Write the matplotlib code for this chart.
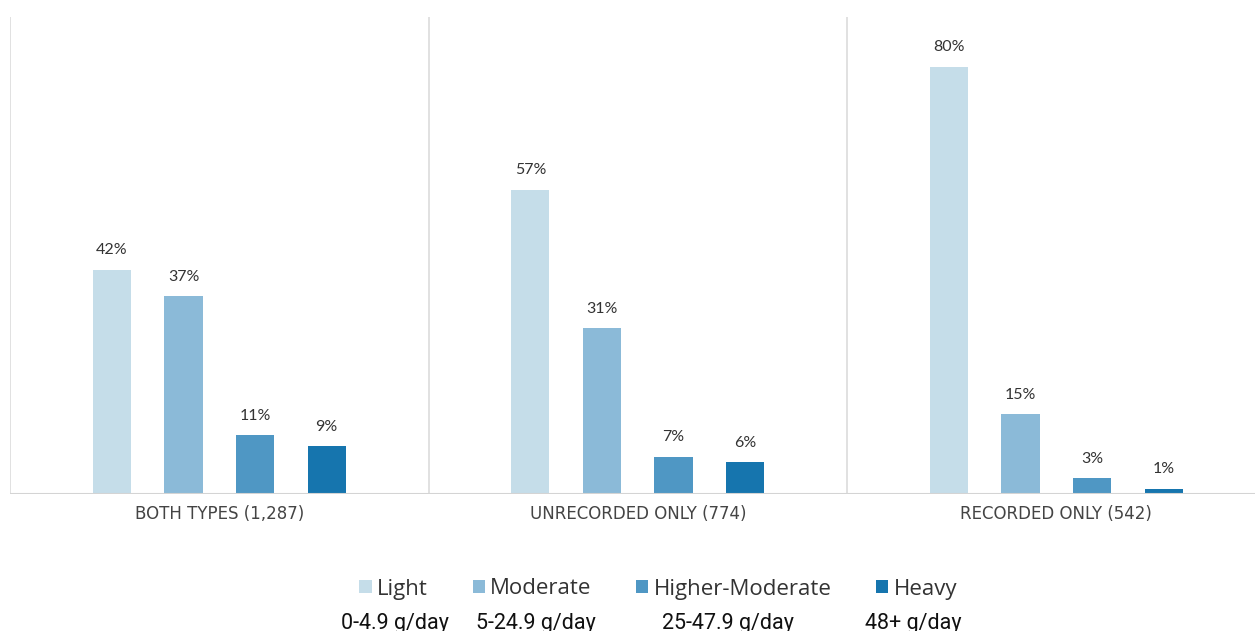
import matplotlib.pyplot as plt
import numpy as np

groups = ["BOTH TYPES (1,287)", "UNRECORDED ONLY (774)", "RECORDED ONLY (542)"]
levels = ["Light", "Moderate", "Higher-Moderate", "Heavy"]
ranges = ["0-4.9 g/day", "5-24.9 g/day", "25-47.9 g/day", "48+ g/day"]
light = [42, 57, 80]
moderate = [37, 31, 15]
higher_moderate = [11, 7, 3]
heavy = [9, 6, 1]

colors = ["#c5dde9", "#8bbad8", "#4f97c4", "#1675ae"]
series = [light, moderate, higher_moderate, heavy]

fig = plt.figure(figsize=(12.55, 6.31), dpi=100)
# axes runs a bit past the right edge, like the original crop
ax = fig.add_axes([10 / 1255, 1 - 494 / 631, 1255.5 / 1255, 477 / 631])

x = np.arange(len(groups))
step = 0.171
width = 0.091
handles = []
for i, (vals, col) in enumerate(zip(series, colors)):
    pos = x + (i - 1.5) * step
    b = ax.bar(pos, vals, width, color=col, label=levels[i], zorder=2)
    handles.append(b)
    for p, v in zip(pos, vals):
        ax.text(p, v + 2.3, f"{v}%", ha="center", va="bottom",
                fontsize=11.5, color="#333333", family="Lato")

ax.set_xlim(-0.5, len(groups) - 0.5)
ax.set_ylim(0, 89.3)
for s in ax.spines.values():
    s.set_visible(False)
ax.axhline(0, color="#d4d4d4", lw=1.5, zorder=3)
for sep in np.arange(-0.5, len(groups), 1.0):
    ax.axvline(sep, color="#dcdcdc", lw=1.2, zorder=1)
ax.set_yticks([])
ax.set_xticks(x)
ax.set_xticklabels(groups, fontsize=12, color="#444444", family="DejaVu Sans")
ax.tick_params(axis="x", length=0, pad=8)

leg = fig.legend(handles=handles, labels=levels, loc="center", ncol=4,
                 bbox_to_anchor=(0.5247, 1 - 589 / 631), frameon=False,
                 prop={"family": "Open Sans", "size": 16},
                 handlelength=0.55, handleheight=0.55, handletextpad=0.25,
                 columnspacing=2.0, labelcolor="#333333")

range_x = [395, 536, 728, 913]
for rx, r in zip(range_x, ranges):
    fig.text(rx / 1255, 1 - 623 / 631, r, ha="center", va="center",
             fontsize=15.5, family="Roboto", color="#111111")

fig.savefig("out.png", dpi=100)
